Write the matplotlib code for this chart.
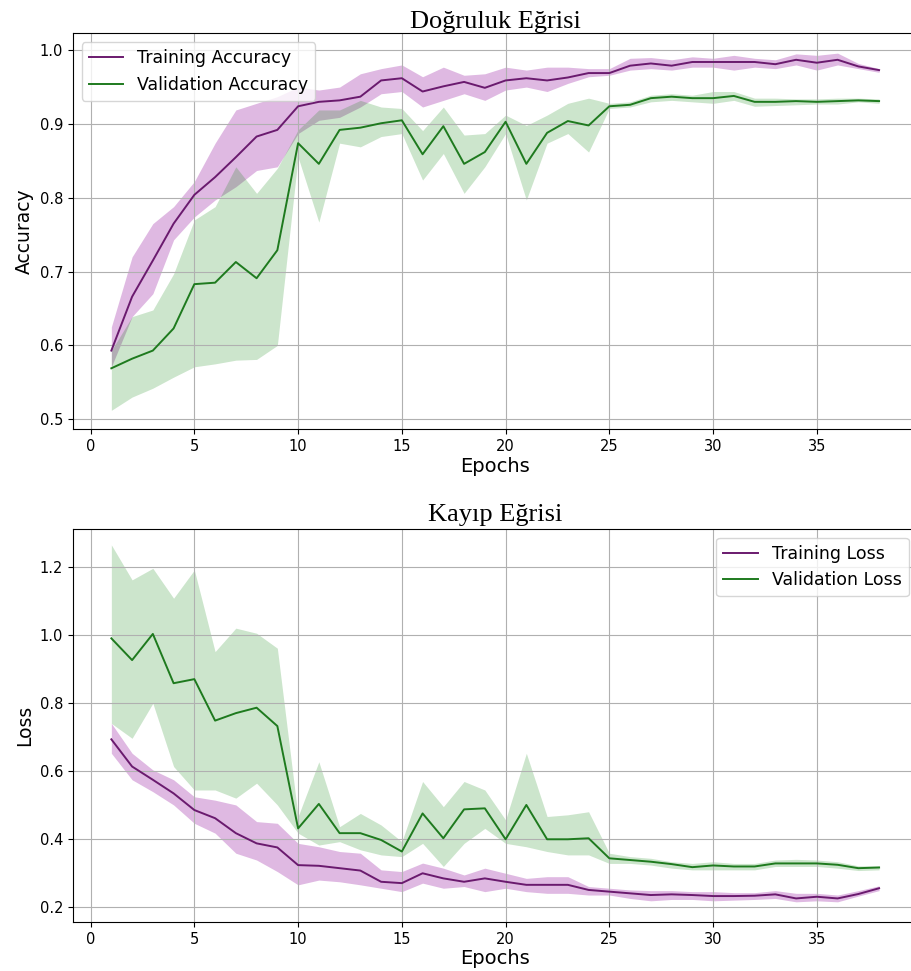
import matplotlib
matplotlib.use("Agg")
import matplotlib.pyplot as plt
import numpy as np

epochs = np.arange(1, 39)

# accuracy curves (mean line and band bounds)
train_acc = [0.593, 0.666, 0.715, 0.765, 0.804, 0.828, 0.855, 0.883, 0.892, 0.924,
             0.930, 0.932, 0.937, 0.959, 0.962, 0.944, 0.951, 0.957, 0.949, 0.959,
             0.962, 0.959, 0.963, 0.969, 0.969, 0.979, 0.982, 0.979, 0.984, 0.984,
             0.984, 0.984, 0.981, 0.987, 0.983, 0.987, 0.978, 0.973]
train_acc_hi = [0.625, 0.720, 0.765, 0.788, 0.822, 0.874, 0.919, 0.928, 0.937, 0.950,
                0.946, 0.950, 0.968, 0.975, 0.980, 0.964, 0.977, 0.966, 0.968, 0.977,
                0.973, 0.977, 0.977, 0.975, 0.975, 0.989, 0.990, 0.987, 0.991, 0.989,
                0.993, 0.989, 0.987, 0.995, 0.993, 0.996, 0.982, 0.975]
train_acc_lo = [0.571, 0.639, 0.670, 0.743, 0.774, 0.797, 0.815, 0.837, 0.842, 0.887,
                0.905, 0.909, 0.923, 0.941, 0.944, 0.923, 0.932, 0.941, 0.932, 0.946,
                0.950, 0.944, 0.955, 0.964, 0.966, 0.973, 0.975, 0.973, 0.977, 0.977,
                0.973, 0.977, 0.975, 0.980, 0.973, 0.980, 0.975, 0.970]

val_acc = [0.569, 0.582, 0.593, 0.623, 0.683, 0.685, 0.713, 0.691, 0.729, 0.874,
           0.846, 0.892, 0.895, 0.901, 0.905, 0.859, 0.897, 0.846, 0.862, 0.903,
           0.846, 0.888, 0.904, 0.898, 0.924, 0.926, 0.935, 0.937, 0.935, 0.935,
           0.938, 0.930, 0.930, 0.931, 0.930, 0.931, 0.932, 0.931]
val_acc_hi = [0.593, 0.639, 0.648, 0.697, 0.770, 0.788, 0.842, 0.806, 0.840, 0.892,
              0.919, 0.919, 0.932, 0.923, 0.921, 0.891, 0.923, 0.885, 0.887, 0.912,
              0.898, 0.912, 0.928, 0.935, 0.928, 0.930, 0.939, 0.941, 0.939, 0.944,
              0.944, 0.935, 0.935, 0.934, 0.934, 0.935, 0.935, 0.934]
val_acc_lo = [0.512, 0.530, 0.542, 0.557, 0.571, 0.575, 0.580, 0.581, 0.600, 0.855,
              0.767, 0.874, 0.869, 0.883, 0.887, 0.824, 0.860, 0.806, 0.842, 0.887,
              0.797, 0.874, 0.887, 0.862, 0.921, 0.923, 0.930, 0.932, 0.930, 0.928,
              0.932, 0.924, 0.925, 0.926, 0.927, 0.927, 0.930, 0.928]

# loss curves
train_loss = [0.694, 0.614, 0.575, 0.535, 0.486, 0.462, 0.418, 0.388, 0.376, 0.324,
              0.322, 0.315, 0.308, 0.275, 0.271, 0.300, 0.285, 0.275, 0.285, 0.275,
              0.266, 0.266, 0.266, 0.251, 0.246, 0.241, 0.236, 0.238, 0.236, 0.233,
              0.233, 0.234, 0.238, 0.226, 0.231, 0.226, 0.239, 0.256]
train_loss_hi = [0.741, 0.653, 0.604, 0.575, 0.525, 0.515, 0.501, 0.452, 0.447, 0.388,
                 0.378, 0.364, 0.359, 0.310, 0.305, 0.330, 0.315, 0.295, 0.315, 0.300,
                 0.285, 0.290, 0.290, 0.261, 0.256, 0.251, 0.249, 0.249, 0.246, 0.246,
                 0.243, 0.243, 0.249, 0.241, 0.241, 0.236, 0.249, 0.263]
train_loss_lo = [0.653, 0.575, 0.540, 0.501, 0.447, 0.418, 0.359, 0.339, 0.305, 0.266,
                 0.280, 0.275, 0.266, 0.256, 0.246, 0.271, 0.256, 0.261, 0.246, 0.256,
                 0.246, 0.241, 0.241, 0.236, 0.236, 0.226, 0.219, 0.223, 0.223, 0.219,
                 0.221, 0.223, 0.226, 0.216, 0.219, 0.216, 0.233, 0.249]

val_loss = [0.991, 0.927, 1.004, 0.859, 0.871, 0.749, 0.771, 0.787, 0.733, 0.432,
            0.504, 0.418, 0.418, 0.398, 0.364, 0.476, 0.403, 0.488, 0.491, 0.400,
            0.501, 0.400, 0.400, 0.403, 0.344, 0.339, 0.334, 0.327, 0.318, 0.323,
            0.320, 0.320, 0.329, 0.329, 0.329, 0.325, 0.315, 0.317]
val_loss_hi = [1.266, 1.163, 1.197, 1.109, 1.192, 0.952, 1.021, 1.006, 0.962, 0.467,
               0.628, 0.437, 0.476, 0.442, 0.393, 0.570, 0.496, 0.570, 0.545, 0.457,
               0.653, 0.467, 0.472, 0.481, 0.359, 0.349, 0.344, 0.334, 0.329, 0.334,
               0.329, 0.329, 0.339, 0.341, 0.339, 0.334, 0.322, 0.322]
val_loss_lo = [0.741, 0.697, 0.800, 0.614, 0.545, 0.545, 0.521, 0.565, 0.501, 0.418,
               0.383, 0.393, 0.369, 0.354, 0.349, 0.388, 0.320, 0.388, 0.432, 0.388,
               0.378, 0.364, 0.354, 0.354, 0.329, 0.329, 0.324, 0.315, 0.310, 0.310,
               0.310, 0.310, 0.320, 0.320, 0.320, 0.315, 0.308, 0.310]

train_line = "#6a1a6e"
train_fill = "#b050b8"
val_line = "#1e7a1e"
val_fill = "green"

fig = plt.figure(figsize=(9.12, 9.71), dpi=100)


def draw(ax, x, tr, tr_lo, tr_hi, va, va_lo, va_hi, labels):
    ax.fill_between(x, tr_lo, tr_hi, color=train_fill, alpha=0.4, linewidth=0)
    ax.fill_between(x, va_lo, va_hi, color=val_fill, alpha=0.2, linewidth=0)
    ax.plot(x, tr, color=train_line, lw=1.4, label=labels[0])
    ax.plot(x, va, color=val_line, lw=1.4, label=labels[1])
    ax.set_xlim(-0.85, 39.85)
    ax.tick_params(labelsize=10.5)
    ax.grid(True)


# top: accuracy
ax1 = fig.add_axes([0.080, 0.558, 0.926, 0.4075])
draw(ax1, epochs, train_acc, train_acc_lo, train_acc_hi,
     val_acc, val_acc_lo, val_acc_hi, ("Training Accuracy", "Validation Accuracy"))
ax1.set_ylim(0.4865, 1.0226)
ax1.set_xlabel("Epochs", fontsize=14, labelpad=2)
ax1.set_ylabel("Accuracy", fontsize=13.5)
ax1.set_title("Doğruluk Eğrisi", family="Liberation Serif", fontsize=19, pad=3)
ax1.legend(loc="upper left", fontsize=12.5)

# bottom: loss
ax2 = fig.add_axes([0.080, 0.0505, 0.926, 0.4047])
draw(ax2, epochs, train_loss, train_loss_lo, train_loss_hi,
     val_loss, val_loss_lo, val_loss_hi, ("Training Loss", "Validation Loss"))
ax2.set_ylim(0.1568, 1.3126)
ax2.set_xlabel("Epochs", fontsize=14, labelpad=2)
ax2.set_ylabel("Loss", fontsize=13.5)
ax2.set_title("Kayıp Eğrisi", family="Liberation Serif", fontsize=19, pad=6)
ax2.legend(loc="upper right", fontsize=12.5)

fig.savefig("out.png", dpi=100)
